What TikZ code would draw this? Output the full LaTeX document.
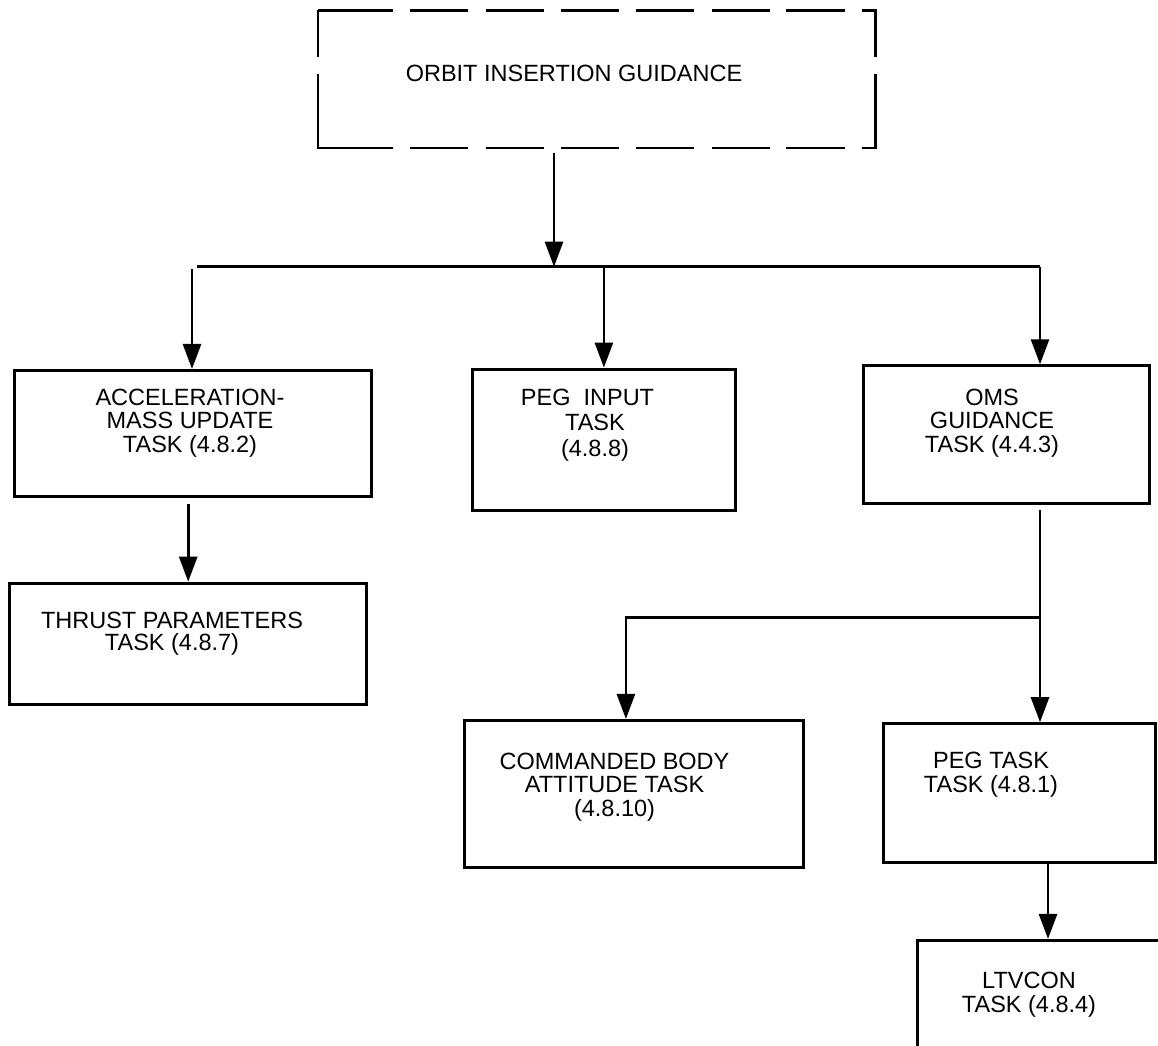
\documentclass[tikz,border=0pt]{standalone}
\usepackage{fontspec}
\setmainfont{Liberation Sans}
\usetikzlibrary{arrows.meta}

\tikzset{
  taskbox/.style={draw, line width=3.2pt, inner sep=0pt},
  tasktext/.style={align=center, inner sep=0pt, font=\fontsize{23.5}{23.6}\selectfont},
  link/.style={line width=2.7pt},
  arr/.style={link, -{Triangle[length=25pt, width=18pt]}},
  oigdash/.style={line width=2.6pt, dash pattern=on 75pt off 17pt on 58pt off 18pt on 58pt off 17pt on 58pt off 17pt on 58pt off 18pt on 58pt off 16pt on 59pt off 17pt on 60.5pt off 17pt on 87.5pt off 17pt on 59pt off 16pt on 58pt off 18pt on 58pt off 17pt on 58pt off 17pt on 58pt off 18pt on 58pt off 17pt on 148.8pt off 17pt on 60pt off 20pt}
}

\begin{document}
\begin{tikzpicture}[x=1pt, y=-1pt]
\useasboundingbox (0,0) rectangle (1158,1045);
\clip (0,0) rectangle (1158,1045);

% 顶层
\node[inner sep=0pt, outer sep=0pt, minimum width=557.7pt, minimum height=137.6pt] (oig) at (596.9,79) {};
\draw[oigdash] (oig.north west) -- (oig.north east) -- (oig.south east) -- (oig.south west) -- cycle;
\node[tasktext] (oig-t) at (574,73) {ORBIT INSERTION GUIDANCE};

% 第二层
\node[taskbox, minimum width=356.7pt, minimum height=125.7pt] (accel) at (193.2,433.4) {};
\node[tasktext] (accel-t) at (190,423.1) {ACCELERATION-\\MASS UPDATE\\TASK (4.8.2)};

\node[taskbox, minimum width=262.7pt, minimum height=141.6pt] (peginput) at (603.9,440) {};
\node[tasktext] (peginput-t) at (595,425) {PEG\ \ INPUT\hspace*{15pt}\\[2pt]TASK\\[2pt](4.8.8)};

\node[taskbox, minimum width=285.4pt, minimum height=137.7pt] (oms) at (1006.5,434.7) {};
\node[tasktext] (oms-t) at (992,423) {OMS\\GUIDANCE\\TASK (4.4.3)};

% 第三层
\node[taskbox, minimum width=356.7pt, minimum height=121.3pt] (thrust) at (188.2,643.9) {};
\node[tasktext] (thrust-t) at (172,633.5) {THRUST PARAMETERS\\[-2pt]TASK (4.8.7)};

\node[taskbox, minimum width=339.3pt, minimum height=147.3pt] (cmdatt) at (633.9,794.2) {};
\node[tasktext] (cmdatt-t) at (614.5,787) {COMMANDED BODY\\ATTITUDE TASK\\(4.8.10)};

\node[taskbox, minimum width=271.7pt, minimum height=139pt] (pegtask) at (1019.7,793.3) {};
\node[tasktext] (pegtask-t) at (991,774.8) {PEG TASK\\TASK (4.8.1)};

\node[taskbox, minimum width=261pt, minimum height=150pt] (ltvcon) at (1048,1015.5) {};
\node[tasktext] (ltvcon-t) at (1029,995) {LTVCON\\TASK (4.8.4)};

% 连线
\coordinate (busL) at (197,266.7);
\coordinate (busM) at (554,266.7);
\coordinate (busR) at (1040,266.7);
\coordinate (brL) at (192,269);
\coordinate (split) at (1040,617.7);

\draw[arr] ([yshift=-5pt]busM |- oig.south) -- (busM);
\draw[link] (busL) -- (busR);
\draw[arr] (brL) -- (brL |- accel.north);
\draw[arr] (peginput.north |- busL) -- (peginput.north);
\draw[arr] (busR) -- (busR |- oms.north);
\draw[arr] ([yshift=-6pt]thrust.north |- accel.south) -- (thrust.north);
\draw[arr] ([yshift=-5pt]busR |- oms.south) -- (busR |- pegtask.north);
\draw[arr] (split) -| ([xshift=-8pt]cmdatt.north);
\draw[arr] (pegtask.south -| ltvcon.north) -- (ltvcon.north);
\end{tikzpicture}
\end{document}
